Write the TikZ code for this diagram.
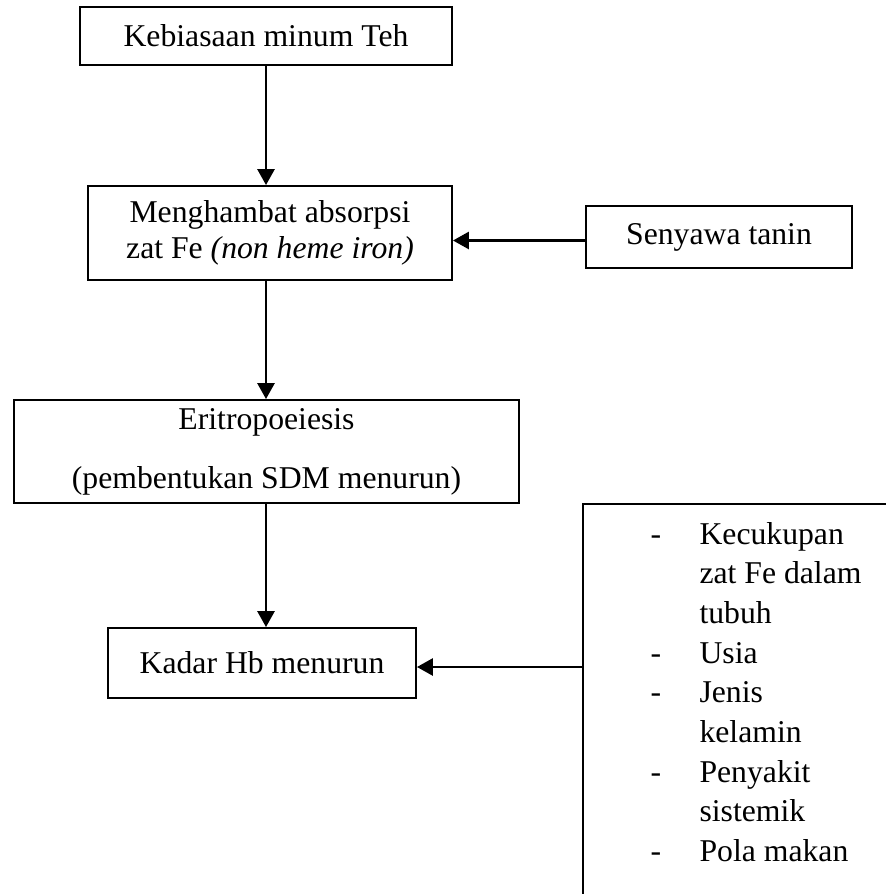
\documentclass[tikz,border=0pt]{standalone}
\usepackage{fontspec}
\setmainfont{Liberation Serif}
\usetikzlibrary{arrows.meta}

\begin{document}
\begin{tikzpicture}[x=0.3785pt, y=-0.3785pt,
    teks/.style={font=\fontsize{12}{14.4}\selectfont, inner sep=0pt},
    kotak/.style={teks, draw, line width=0.7pt, align=center},
    panah/.style={line width=1pt, -{Triangle[length=6pt, width=6.4pt]}}]
      \clip (0,0) rectangle (886,894);

      \node[kotak, minimum width=140.8pt, minimum height=21.9pt] (teh) at (266,36) {Kebiasaan minum Teh};
      \node[kotak, minimum width=137.8pt, minimum height=35.6pt, font=\fontsize{12}{13.6}\selectfont] (hambat) at (270,233)
        {Menghambat absorpsi\\zat Fe \textit{(non heme iron)}};
      \node[kotak, minimum width=100.8pt, minimum height=23.6pt] (tanin) at (719,237) {Senyawa tanin};
      \node[kotak, minimum width=191.1pt, minimum height=39pt] (eritro) at (266.5,451.5)
        {Eritropoeiesis\\[8pt](pembentukan SDM menurun)};
      \node[kotak, minimum width=116.6pt, minimum height=26.5pt] (hb) at (262,663) {Kadar Hb menurun};

      % kotak faktor lain, terpotong di tepi
      \node[draw, line width=0.7pt, inner sep=0pt, anchor=north west, minimum width=125pt, minimum height=155pt] (faktor) at (582,503) {};
      \foreach \n/\baris in {0/Kecukupan, 1/zat Fe dalam, 2/tubuh, 3/Usia, 4/Jenis, 5/kelamin, 6/Penyakit, 7/sistemik, 8/Pola makan}
        \node[teks, anchor=base west] (baris\n) at (699,544+39.7*\n) {\baris};
      \foreach \n in {0,3,4,6,8}
        \node[teks, anchor=base] (strip\n) at (656,544+39.7*\n) {-};

      \path (tanin.west) ++(0,3.5) coordinate (asal);
      \coordinate (masuk) at (582,667);

      \draw[panah] (teh.south) -- (teh.south |- hambat.north);
      \draw[panah] (teh.south |- hambat.south) -- (teh.south |- eritro.north);
      \draw[panah] (teh.south |- eritro.south) -- (teh.south |- hb.north);
      \draw[panah] (asal) -- (asal -| hambat.east);
      \draw[panah] (masuk) -- (masuk -| hb.east);
    \end{tikzpicture}
\end{document}
